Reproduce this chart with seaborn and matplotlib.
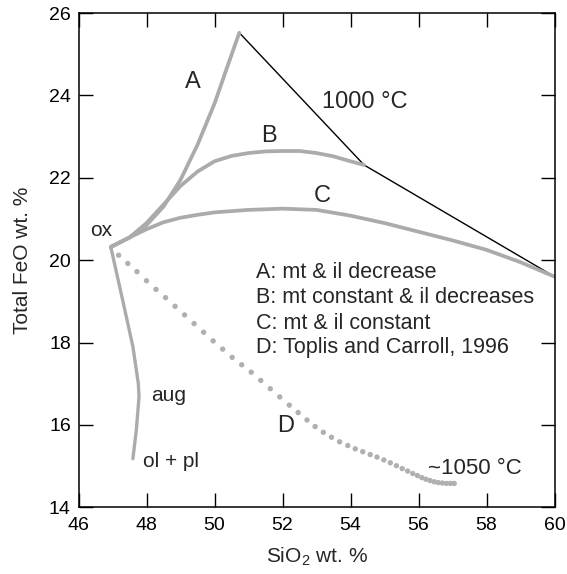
import matplotlib
matplotlib.use("Agg")
import matplotlib.pyplot as plt
import seaborn as sns
import pandas as pd

# ---- data ----
a_sio2 = [46.95, 47.5, 48.0, 48.5, 49.0, 49.5, 50.0, 50.4, 50.73]
a_feo = [20.32, 20.55, 20.85, 21.3, 21.95, 22.8, 23.8, 24.75, 25.52]

b_sio2 = [46.95, 47.5, 48.0, 48.5, 49.0, 49.5, 50.0, 50.5, 51.0, 51.5, 52.0, 52.5, 53.0, 53.5, 54.0, 54.4]
b_feo = [20.32, 20.55, 20.9, 21.35, 21.8, 22.15, 22.4, 22.53, 22.6, 22.64, 22.65, 22.65, 22.6, 22.52, 22.4, 22.31]

c_sio2 = [46.95, 47.5, 48.0, 48.5, 49.0, 49.5, 50.0, 51.0, 52.0, 53.0, 54.0, 55.0, 56.0, 57.0, 58.0, 59.0, 60.0]
c_feo = [20.32, 20.55, 20.75, 20.92, 21.03, 21.1, 21.16, 21.22, 21.25, 21.22, 21.08, 20.9, 20.69, 20.48, 20.25, 19.95, 19.6]

iso_sio2 = [50.73, 54.4, 60.0]
iso_feo = [25.52, 22.31, 19.6]

aug_sio2 = [46.95, 47.32, 47.6, 47.76, 47.78, 47.7, 47.6]
aug_feo = [20.32, 18.95, 17.9, 17.0, 16.68, 15.87, 15.18]

d_sio2 = [47.18, 47.45, 47.72, 48.0, 48.28, 48.56, 48.84, 49.12, 49.40, 49.68,
          49.96, 50.24, 50.52, 50.80, 51.08, 51.36, 51.64, 51.92, 52.20, 52.46,
          52.72, 52.96, 53.20, 53.44, 53.68, 53.92, 54.14, 54.36, 54.58, 54.78,
          54.98, 55.17, 55.35, 55.52, 55.68, 55.83, 55.97, 56.10, 56.22, 56.34,
          56.46, 56.58, 56.70, 56.82, 56.94, 57.05]
d_feo = [20.12, 19.92, 19.72, 19.50, 19.29, 19.09, 18.88, 18.67, 18.46, 18.25,
         18.04, 17.84, 17.64, 17.46, 17.28, 17.08, 16.88, 16.68, 16.48, 16.30,
         16.12, 15.96, 15.82, 15.70, 15.59, 15.50, 15.42, 15.35, 15.28, 15.22,
         15.15, 15.08, 15.01, 14.94, 14.88, 14.82, 14.77, 14.72, 14.68, 14.65,
         14.62, 14.60, 14.59, 14.58, 14.58, 14.58]

x_ticks = [46, 48, 50, 52, 54, 56, 58, 60]
y_ticks = [14, 16, 18, 20, 22, 24, 26]

legend_lines = ["A: mt & il decrease", "B: mt constant & il decreases",
                "C: mt & il constant", "D: Toplis and Carroll, 1996"]

# ---- plot ----
sns.set_theme(style="ticks")
plt.rcParams['font.family'] = ['Liberation Sans', 'DejaVu Sans']
plt.rcParams['mathtext.fontset'] = 'custom'
plt.rcParams['mathtext.rm'] = 'Liberation Sans'

W, H = 567, 574
fig = plt.figure(figsize=(W / 100, H / 100), dpi=100)
left, right, top, bottom = 78.5, 554.5, 13.0, 507.3
ax = fig.add_axes([left / W, 1 - bottom / H, (right - left) / W, (bottom - top) / H])

gray = "#ababab"

def line(xs, ys, **kw):
    df = pd.DataFrame({"x": xs, "y": ys})
    sns.lineplot(data=df, x="x", y="y", sort=False, estimator=None, ax=ax, **kw)

line(iso_sio2, iso_feo, color="black", linewidth=1.0)
line(a_sio2, a_feo, color=gray, linewidth=2.7)
line(b_sio2, b_feo, color=gray, linewidth=2.7)
line(c_sio2, c_feo, color=gray, linewidth=2.7)
line(aug_sio2, aug_feo, color=gray, linewidth=2.4)
sns.scatterplot(x=d_sio2, y=d_feo, color="#b0b0b0", s=15, edgecolor="none", ax=ax)

ax.set_xlim(46, 60)
ax.set_ylim(14, 26)
ax.set_xticks(x_ticks)
ax.set_yticks(y_ticks)
ax.set_xticklabels([str(t) for t in x_ticks])
ax.set_yticklabels([str(t) for t in y_ticks])
ax.tick_params(direction="in", length=10, width=1.0, labelsize=14,
               top=True, right=True, colors="black")
ax.tick_params(axis="x", pad=7)
ax.tick_params(axis="y", pad=5.5)
for sp in ax.spines.values():
    sp.set_visible(True)
    sp.set_linewidth(1.1)
    sp.set_color("black")

ax.set_xlabel(r"SiO$_{\mathregular{2}}$ wt. %", fontsize=15, labelpad=8)
ax.set_ylabel("Total FeO wt. %", fontsize=15, labelpad=12)

big = 17
ax.text(49.36, 24.17, "A", fontsize=big, ha="center", va="baseline")
ax.text(51.6, 22.88, "B", fontsize=big, ha="center", va="baseline")
ax.text(53.18, 21.41, "C", fontsize=big, ha="center", va="baseline")
ax.text(52.1, 15.82, "D", fontsize=big, ha="center", va="baseline")
ax.text(53.15, 23.69, "1000 °C", fontsize=17, ha="left", va="baseline")
ax.text(46.68, 20.59, "ox", fontsize=15, ha="center", va="baseline")
ax.text(48.13, 16.59, "aug", fontsize=15, ha="left", va="baseline")
ax.text(47.89, 14.99, "ol + pl", fontsize=15, ha="left", va="baseline")
ax.text(56.27, 14.81, "~1050 °C", fontsize=16, ha="left", va="baseline")

for txt, yy in zip(legend_lines, [19.57, 18.97, 18.32, 17.75]):
    ax.text(51.23, yy, txt, fontsize=15.5, ha="left", va="baseline")

fig.savefig("out.png", dpi=100)
